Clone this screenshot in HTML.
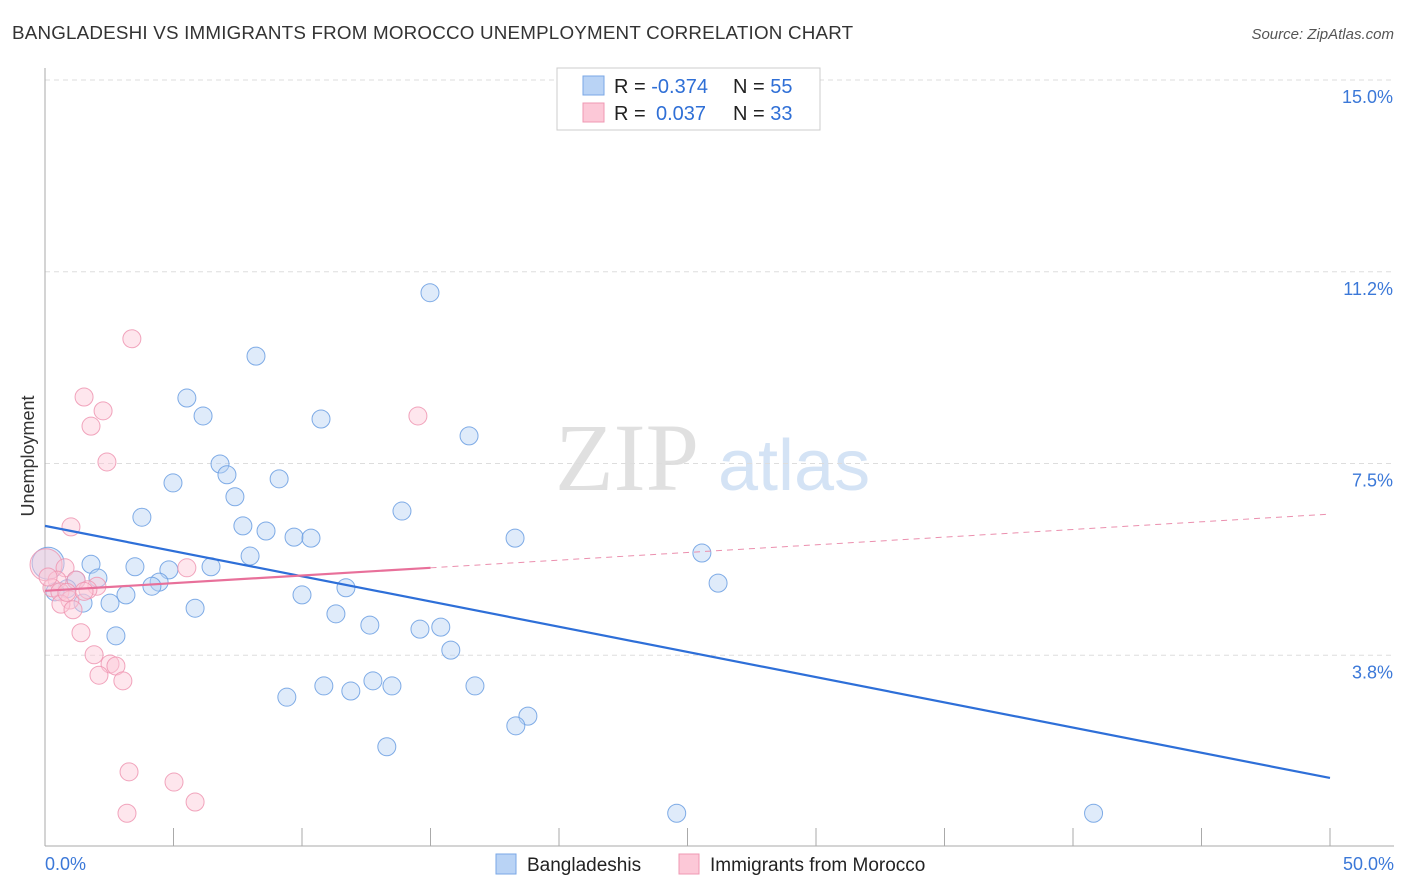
<!DOCTYPE html>
<html><head><meta charset="utf-8"><style>
body{margin:0;background:#fff;font-family:"Liberation Sans",sans-serif;}
svg{display:block}
</style></head><body>
<svg id="chart" width="1406" height="892" xmlns="http://www.w3.org/2000/svg">
<text x="12" y="39" font-size="18.8" fill="#333" letter-spacing="0.2">BANGLADESHI VS IMMIGRANTS FROM MOROCCO UNEMPLOYMENT CORRELATION CHART</text>
<text x="1394" y="39" font-size="15" fill="#555" font-style="italic" text-anchor="end">Source: ZipAtlas.com</text>
<text x="34" y="456" font-size="18" fill="#333" text-anchor="middle" transform="rotate(-90 34 456)">Unemployment</text>
<g>
<text x="555" y="490" font-size="96" font-family="Liberation Serif,serif" fill="#e0e0e0">ZIP</text>
<text x="718" y="490" font-size="72" fill="#d4e3f5">atlas</text>
</g>
<g id="grid"></g><g id="axes"></g><g id="pts"></g><g id="lines"></g>
<g>
<rect x="557" y="68" width="263" height="62" fill="#fff" stroke="#ccc"/>
<rect x="583" y="76" width="21" height="19" fill="#b9d3f5" stroke="#7aa7e6"/>
<rect x="583" y="103" width="21" height="19" fill="#fcc8d7" stroke="#ef98b3"/>
<text x="614" y="93" font-size="20" fill="#222">R = <tspan fill="#2f6fd6">-0.374</tspan><tspan x="733">N = </tspan><tspan fill="#2f6fd6">55</tspan></text>
<text x="614" y="120" font-size="20" fill="#222">R = <tspan x="656" fill="#2f6fd6">0.037</tspan><tspan x="733">N = </tspan><tspan fill="#2f6fd6">33</tspan></text>
</g>
<g>
<rect x="496" y="854" width="20" height="20" fill="#b9d3f5" stroke="#7aa7e6"/>
<text x="527" y="871" font-size="19" fill="#222">Bangladeshis</text>
<rect x="679" y="854" width="20" height="20" fill="#fcc8d7" stroke="#ef98b3"/>
<text x="710" y="871" font-size="19" fill="#222">Immigrants from Morocco</text>
</g>
</svg>
<script>
const xTicks=[0,5,10,15,20,25,30,35,40,45,50];
const yTicks=[3.75,7.5,11.25,15];
const yTickLabels=["3.8%","7.5%","11.2%","15.0%"];
const blueX=[14.98,8.21,5.52,6.15,10.74,16.50,6.81,7.08,4.98,9.11,7.39,13.89,3.77,7.70,8.60,9.69,10.35,18.29,7.98,25.56,1.79,3.50,6.46,4.82,2.06,4.44,1.21,4.16,11.71,26.19,3.15,10.00,0.86,0.39,2.53,1.48,5.84,11.32,12.64,14.59,15.40,2.76,15.79,10.85,11.90,12.76,13.50,16.73,9.41,18.79,18.32,13.30,24.58,40.80,0.12];
const blueY=[10.84,9.60,8.78,8.43,8.37,8.04,7.49,7.28,7.12,7.20,6.85,6.57,6.45,6.28,6.18,6.06,6.04,6.04,5.69,5.75,5.53,5.48,5.48,5.42,5.26,5.18,5.22,5.10,5.07,5.16,4.93,4.93,5.05,4.99,4.77,4.77,4.67,4.56,4.34,4.26,4.30,4.13,3.85,3.15,3.05,3.25,3.15,3.15,2.93,2.56,2.37,1.96,0.66,0.66,5.55];
const pinkX=[3.38,1.52,2.26,1.79,2.41,1.01,0.04,0.78,0.47,1.21,0.27,0.58,2.02,1.67,0.97,0.62,1.09,1.40,1.91,2.53,2.76,2.10,3.03,5.52,14.51,3.27,5.02,5.84,3.19,0.12,1.52,0.85];
const pinkY=[9.94,8.80,8.53,8.23,7.53,6.26,5.52,5.46,5.22,5.22,5.07,4.99,5.10,5.03,4.83,4.75,4.64,4.19,3.76,3.58,3.54,3.36,3.25,5.46,8.43,1.47,1.27,0.88,0.66,5.28,5.00,4.98];
const blueTrend=[6.28,1.35];
const pinkTrend=[5.01,6.51];
const pinkSolidEnd=15;
const X=v=>45+v*1285/50, Y=v=>847-v*767/15;
const NS="http://www.w3.org/2000/svg";
function mk(t,a,p){const e=document.createElementNS(NS,t);for(const k in a)e.setAttribute(k,a[k]);p.appendChild(e);return e;}
const grid=document.getElementById('grid'),axes=document.getElementById('axes'),lines=document.getElementById('lines'),pts=document.getElementById('pts');
yTicks.forEach((t,i)=>{
 const l=mk('line',{x1:45,x2:1394,y1:Y(t),y2:Y(t),stroke:'#ddd','stroke-dasharray':'5,4'},grid);
 
 
 const tx=mk('text',{x:1393,y:Y(t)+23,'font-size':18,fill:'#3b78d8','text-anchor':'end'},axes);
 tx.textContent=yTickLabels[i];
 
 
});
const tl=mk('line',{x1:45,x2:1394,y1:80,y2:80,stroke:'#ddd','stroke-dasharray':'5,4'},grid);


const ya=mk('line',{x1:45,x2:45,y1:68,y2:846,stroke:'#aaa'},axes);


const xa=mk('line',{x1:45,x2:1394,y1:846,y2:846,stroke:'#aaa'},axes);


xTicks.forEach(t=>{
 const l=mk('line',{x1:X(t),x2:X(t),y1:828,y2:846,stroke:'#aaa'},axes);
 
 
});
[[0,'0.0%','start',45],[50,'50.0%','end',1394]].forEach(d=>{
 const tx=mk('text',{x:d[3],y:870,'font-size':18,fill:'#3b78d8','text-anchor':d[2]},axes);
 tx.textContent=d[1];
 
 
});
const lerp=(a,x)=>a[0]+(a[1]-a[0])*x/50;
const pd=mk('line',{x1:X(pinkSolidEnd),y1:Y(lerp(pinkTrend,pinkSolidEnd)),x2:X(50),y2:Y(pinkTrend[1]),stroke:'#eb8fae','stroke-dasharray':'6,5','stroke-width':1},lines);


function dots(xs,ys,fill,stroke,name){xs.forEach((x,i)=>{
 const c=mk('circle',{cx:X(x),cy:Y(ys[i]),r:(x<0.2&&ys[i]>5.4)?16:9,fill:fill,'fill-opacity':0.45,stroke:stroke,'stroke-width':1,'stroke-opacity':0.85},pts);
 
 
});}
dots(blueX,blueY,'#b9d3f5','#6a9de2','bangladeshi-point');
dots(pinkX,pinkY,'#fcc8d7','#ef95b1','morocco-point');
const bl=mk('line',{x1:X(0),y1:Y(blueTrend[0]),x2:X(50),y2:Y(blueTrend[1]),stroke:'#2e6fd8','stroke-width':2.2},lines);


const pl=mk('line',{x1:X(0),y1:Y(pinkTrend[0]),x2:X(pinkSolidEnd),y2:Y(lerp(pinkTrend,pinkSolidEnd)),stroke:'#e8709a','stroke-width':2.2},lines);


</script>
</body></html>
